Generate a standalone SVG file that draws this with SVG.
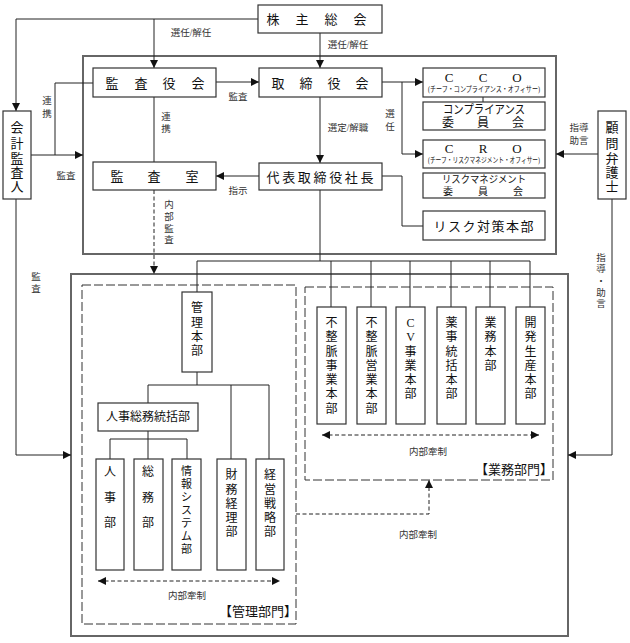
<svg xmlns="http://www.w3.org/2000/svg" width="630" height="643" viewBox="0 0 630 643">
<defs>
<marker id="ar" viewBox="0 0 8 8" refX="8" refY="4" markerWidth="8" markerHeight="8" markerUnits="userSpaceOnUse" orient="auto-start-reverse"><path d="M0,0 L8,4 L0,8 z" fill="#111"/></marker>
<style>
.bx{fill:#fff;stroke:#333;stroke-width:1.2}
.big{fill:none;stroke:#666;stroke-width:2}
.dbx{fill:none;stroke:#333;stroke-width:1;stroke-dasharray:9 3}
.ln{fill:none;stroke:#222;stroke-width:1}
.dl{fill:none;stroke:#222;stroke-width:1;stroke-dasharray:4 2.5}
text{font-family:"Liberation Serif","Noto Sans CJK JP",serif;fill:#111;text-anchor:middle;dominant-baseline:central}
.t{font-size:13px}
.v{font-size:12px}
.vs{font-size:11px}
.rm{font-size:10px}
.s{font-size:9.5px;fill:#333}
.xs{font-size:7.5px}
</style>
</defs>
<rect x="0" y="0" width="630" height="643" fill="#fff"/>

<g id="outer-top"><rect class="big" x="83" y="56" width="473" height="198"/></g>
<g id="outer-bottom"><rect class="big" x="71" y="274" width="497" height="362"/></g>
<g id="kanri-bumon"><rect class="dbx" x="82" y="285" width="214" height="339"/><text class="t" x="258" y="611">【管理部門】</text></g>
<g id="gyomu-bumon"><rect class="dbx" x="305" y="287" width="248" height="193"/><text class="t" x="514" y="469">【業務部門】</text></g>

<g id="connectors">
<path class="ln" d="M258,19 H16 V111" marker-end="url(#ar)"/>
<path class="ln" d="M154,19 V68" marker-end="url(#ar)"/>
<path class="ln" d="M320,33 V68" marker-end="url(#ar)"/>
<path class="ln" d="M216,82 H259" marker-end="url(#ar)"/>
<path class="ln" d="M93,83 H55 V155"/>
<path class="ln" d="M31,155 H83" marker-end="url(#ar)"/>
<path class="ln" d="M154,97 V162"/>
<path class="ln" d="M320,97 V163" marker-end="url(#ar)"/>
<path class="ln" d="M259,176 H216" marker-end="url(#ar)"/>
<path class="ln" d="M382,82 H423" marker-end="url(#ar)"/>
<path class="ln" d="M402,82 V154 H423" marker-end="url(#ar)"/>
<path class="ln" d="M483,97 V102"/>
<path class="ln" d="M382,176 H402 V226 H423"/>
<path class="ln" d="M598,154 H556" marker-end="url(#ar)"/>
<path class="ln" d="M612,199 V455 H568" marker-end="url(#ar)"/>
<path class="ln" d="M16,199 V455 H71" marker-end="url(#ar)"/>
<path class="dl" d="M154,190 V274" marker-end="url(#ar)"/>
<path class="ln" d="M320,190 V261 M197,261 H530 M197,261 V292 M331,261 V307 M371,261 V307 M410,261 V307 M451,261 V307 M490,261 V307 M530,261 V307"/>
<path class="ln" d="M197,372 V385 M148,385 H269 M148,385 V403 M231,385 V459 M269,385 V459"/>
<path class="ln" d="M148,431 V439 M110,439 H187 M110,439 V459 M148,439 V459 M187,439 V459"/>
<path class="dl" d="M98,581 H280" marker-start="url(#ar)" marker-end="url(#ar)"/>
<path class="dl" d="M322,435 H539" marker-start="url(#ar)" marker-end="url(#ar)"/>
<path class="dl" d="M296,514 H429 V480" marker-end="url(#ar)"/>
</g>

<g id="labels">
<text class="s" x="191" y="33">選任/解任</text>
<text class="s" x="348" y="45">選任/解任</text>
<text class="s" x="238" y="97">監査</text>
<text class="s" x="348" y="128">選定/解職</text>
<text class="s" x="238" y="191">指示</text>
<text class="s" x="66" y="176">監査</text>
<text class="s"><tspan x="47" y="101">連</tspan><tspan x="47" y="114">携</tspan></text>
<text class="s"><tspan x="166" y="117">連</tspan><tspan x="166" y="129">携</tspan></text>
<text class="s"><tspan x="390" y="114">選</tspan><tspan x="390" y="127">任</tspan></text>
<text class="s"><tspan x="36" y="277">監</tspan><tspan x="36" y="289">査</tspan></text>
<text class="s"><tspan x="169" y="205">内</tspan><tspan x="169" y="217">部</tspan><tspan x="169" y="229">監</tspan><tspan x="169" y="240">査</tspan></text>
<text class="s"><tspan x="579" y="128">指導</tspan><tspan x="579" y="141">助言</tspan></text>
<text class="s"><tspan x="601" y="258">指</tspan><tspan x="601" y="269">導</tspan><tspan x="601" y="281">・</tspan><tspan x="601" y="293">助</tspan><tspan x="601" y="304">言</tspan></text>
<text class="s" x="187" y="596">内部牽制</text>
<text class="s" x="428" y="452">内部牽制</text>
<text class="s" x="418" y="535">内部牽制</text>
</g>

<g id="kabunushi"><rect class="bx" x="258" y="5" width="124" height="28"/><text class="t" x="273 302 331 360" y="19">株主総会</text></g>
<g id="kansayakukai"><rect class="bx" x="93" y="68" width="123" height="29"/><text class="t" x="112 141 169 198" y="83">監査役会</text></g>
<g id="torishimariyakukai"><rect class="bx" x="259" y="68" width="123" height="29"/><text class="t" x="278 306 334 362" y="83">取締役会</text></g>
<g id="kansashitsu"><rect class="bx" x="93" y="162" width="123" height="28"/><text class="t" x="117 154 192" y="176">監査室</text></g>
<g id="shacho"><rect class="bx" x="259" y="163" width="123" height="27"/><text class="t" x="273 288.7 304.3 320 335.7 351.3 367" y="177">代表取締役社長</text></g>
<g id="kaikei"><rect class="bx" x="3" y="111" width="28" height="88"/><text class="t"><tspan x="17" y="127">会</tspan><tspan x="17" y="143">計</tspan><tspan x="17" y="158">監</tspan><tspan x="17" y="172">査</tspan><tspan x="17" y="186">人</tspan></text></g>
<g id="komon"><rect class="bx" x="598" y="111" width="28" height="88"/><text class="t"><tspan x="612" y="127">顧</tspan><tspan x="612" y="143">問</tspan><tspan x="612" y="158">弁</tspan><tspan x="612" y="172">護</tspan><tspan x="612" y="186">士</tspan></text></g>
<g id="cco"><rect class="bx" x="423" y="68" width="122" height="29"/><text class="t" x="449 483 517" y="77">CCO</text><text class="xs" x="484" y="89" textLength="112" lengthAdjust="spacingAndGlyphs">(チーフ・コンプライアンス・オフィサー)</text></g>
<g id="compliance"><rect class="bx" x="423" y="102" width="122" height="28"/><text class="v" x="484" y="110" textLength="82" lengthAdjust="spacingAndGlyphs">コンプライアンス</text><text class="v" x="448 483 518" y="123">委員会</text></g>
<g id="cro"><rect class="bx" x="423" y="140" width="122" height="28"/><text class="t" x="449 483 517" y="148">CRO</text><text class="xs" x="484" y="160" textLength="112" lengthAdjust="spacingAndGlyphs">(チーフ・リスクマネジメント・オフィサー)</text></g>
<g id="riskmgmt"><rect class="bx" x="423" y="173" width="122" height="25"/><text class="rm" x="484" y="179.5" textLength="84" lengthAdjust="spacingAndGlyphs">リスクマネジメント</text><text class="rm" x="448 483 518" y="191.5">委員会</text></g>
<g id="risktaisaku"><rect class="bx" x="423" y="211" width="122" height="29"/><text class="t" x="440 454.5 469 483.5 498 512.5 527" y="226">リスク対策本部</text></g>

<g id="kanrihonbu"><rect class="bx" x="182" y="292" width="30" height="80"/><text class="v"><tspan x="197" y="308">管</tspan><tspan x="197" y="323">理</tspan><tspan x="197" y="337">本</tspan><tspan x="197" y="351">部</tspan></text></g>
<g id="jinjisomu"><rect class="bx" x="98" y="403" width="100" height="28"/><text class="v" x="148" y="417" textLength="84" lengthAdjust="spacingAndGlyphs">人事総務統括部</text></g>
<g id="jinji"><rect class="bx" x="96" y="459" width="28" height="111"/><text class="v"><tspan x="110" y="472">人</tspan><tspan x="110" y="498">事</tspan><tspan x="110" y="523">部</tspan></text></g>
<g id="somu"><rect class="bx" x="134" y="459" width="29" height="111"/><text class="v"><tspan x="148" y="472">総</tspan><tspan x="148" y="498">務</tspan><tspan x="148" y="523">部</tspan></text></g>
<g id="joho"><rect class="bx" x="172" y="459" width="29" height="111"/><text class="vs"><tspan x="186.5" y="471">情</tspan><tspan x="186.5" y="484">報</tspan><tspan x="186.5" y="497">シ</tspan><tspan x="186.5" y="510">ス</tspan><tspan x="186.5" y="523">テ</tspan><tspan x="186.5" y="536">ム</tspan><tspan x="186.5" y="549">部</tspan></text></g>
<g id="zaimu"><rect class="bx" x="217" y="459" width="29" height="111"/><text class="v"><tspan x="231.5" y="475">財</tspan><tspan x="231.5" y="490">務</tspan><tspan x="231.5" y="504">経</tspan><tspan x="231.5" y="518">理</tspan><tspan x="231.5" y="532">部</tspan></text></g>
<g id="keiei"><rect class="bx" x="256" y="459" width="28" height="111"/><text class="v"><tspan x="270" y="475">経</tspan><tspan x="270" y="490">営</tspan><tspan x="270" y="504">戦</tspan><tspan x="270" y="518">略</tspan><tspan x="270" y="532">部</tspan></text></g>

<g id="fuseimyaku-jigyo"><rect class="bx" x="317" y="307" width="29" height="117"/><text class="v"><tspan x="331.5" y="323">不</tspan><tspan x="331.5" y="337">整</tspan><tspan x="331.5" y="352">脈</tspan><tspan x="331.5" y="366">事</tspan><tspan x="331.5" y="380">業</tspan><tspan x="331.5" y="394">本</tspan><tspan x="331.5" y="409">部</tspan></text></g>
<g id="fuseimyaku-eigyo"><rect class="bx" x="357" y="307" width="29" height="117"/><text class="v"><tspan x="371.5" y="323">不</tspan><tspan x="371.5" y="337">整</tspan><tspan x="371.5" y="352">脈</tspan><tspan x="371.5" y="366">営</tspan><tspan x="371.5" y="380">業</tspan><tspan x="371.5" y="394">本</tspan><tspan x="371.5" y="409">部</tspan></text></g>
<g id="cv"><rect class="bx" x="396" y="307" width="29" height="117"/><text class="v"><tspan x="410.5" y="323">C</tspan><tspan x="410.5" y="337">V</tspan><tspan x="410.5" y="352">事</tspan><tspan x="410.5" y="366">業</tspan><tspan x="410.5" y="380">本</tspan><tspan x="410.5" y="394">部</tspan></text></g>
<g id="yakuji"><rect class="bx" x="437" y="307" width="29" height="117"/><text class="v"><tspan x="451.5" y="323">薬</tspan><tspan x="451.5" y="337">事</tspan><tspan x="451.5" y="352">統</tspan><tspan x="451.5" y="366">括</tspan><tspan x="451.5" y="380">本</tspan><tspan x="451.5" y="394">部</tspan></text></g>
<g id="gyomuhonbu"><rect class="bx" x="476" y="307" width="29" height="117"/><text class="v"><tspan x="490.5" y="323">業</tspan><tspan x="490.5" y="337">務</tspan><tspan x="490.5" y="352">本</tspan><tspan x="490.5" y="366">部</tspan></text></g>
<g id="kaihatsu"><rect class="bx" x="516" y="307" width="29" height="117"/><text class="v"><tspan x="530.5" y="323">開</tspan><tspan x="530.5" y="337">発</tspan><tspan x="530.5" y="352">生</tspan><tspan x="530.5" y="366">産</tspan><tspan x="530.5" y="380">本</tspan><tspan x="530.5" y="394">部</tspan></text></g>
</svg>
